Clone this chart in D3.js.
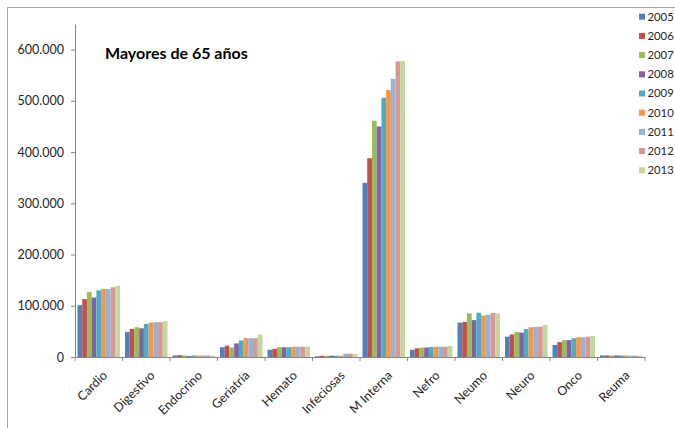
<!DOCTYPE html>
<html>
<head>
<meta charset="utf-8">
<script src="https://cdn.jsdelivr.net/npm/d3@7"></script>
<style>
  html, body { margin: 0; padding: 0; background: #fff; }
  svg { display: block; font-family: Lato, "Open Sans", sans-serif; }
</style>
</head>
<body>
<svg id="chart" width="675" height="428"></svg>
<script>
// Hospital discharges, patients over 65, by service and year
const categories = ["Cardio", "Digestivo", "Endocrino", "Geriatría", "Hemato", "Infeciosas",
                    "M Interna", "Nefro", "Neumo", "Neuro", "Onco", "Reuma"];
const years = ["2005", "2006", "2007", "2008", "2009", "2010", "2011", "2012", "2013"];

// one array per service, values per year 2005..2013
const cardio     = [101000, 113000, 127000, 116000, 130000, 133000, 132500, 136000, 139000];
const digestivo  = [48800, 54700, 58000, 56000, 64500, 67000, 68000, 68000, 70000];
const endocrino  = [3000, 3500, 3000, 2000, 3000, 3000, 3000, 3000, 2500];
const geriatria  = [19000, 22000, 18500, 26500, 32500, 37000, 36500, 36500, 43500];
const hemato     = [14000, 16000, 19000, 19000, 19000, 20000, 20000, 20000, 20000];
const infeciosas = [1500, 2500, 2500, 2500, 2500, 2500, 6500, 6500, 6000];
const mInterna   = [340000, 388000, 461000, 450000, 506000, 521000, 543000, 577000, 578000];
const nefro      = [14000, 17000, 18500, 18500, 19500, 20000, 20000, 20000, 21500];
const neumo      = [67000, 68500, 85000, 72000, 86500, 81000, 82500, 86000, 85000];
const neuro      = [39700, 44000, 48800, 47500, 54700, 58000, 59000, 59000, 62500];
const onco       = [23400, 29000, 33000, 33000, 36500, 38500, 38500, 39700, 41000];
const reuma      = [3000, 3000, 3000, 3000, 3000, 3000, 2800, 2600, 2500];

const seriesByCategory = [cardio, digestivo, endocrino, geriatria, hemato, infeciosas,
                          mInterna, nefro, neumo, neuro, onco, reuma];

const yTicks = [0, 100000, 200000, 300000, 400000, 500000, 600000];
const yMax = 650000;

const colors = ["#4F81BD", "#C0504D", "#9BBB59", "#8064A2", "#4BACC6",
                "#F79646", "#95B3D7", "#D99694", "#C3D69B"];

const svg = d3.select("#chart");

// outer chart frame
svg.append("rect")
  .attr("x", 7.5).attr("y", 7.5)
  .attr("width", 700).attr("height", 440)
  .attr("fill", "none").attr("stroke", "#a6a6a6").attr("stroke-width", 1);

const plotLeft = 75, plotRight = 645, plotTop = 24, plotBottom = 357;

const x0 = d3.scaleBand().domain(categories).range([plotLeft, plotRight]).padding(0);
const gap = 5;
const x1 = d3.scaleBand().domain(years).range([gap / 2, x0.bandwidth() - gap / 2]).padding(0);
const y = d3.scaleLinear().domain([0, yMax]).range([plotBottom, plotTop]);

const esLocale = d3.formatLocale({ decimal: ",", thousands: ".", grouping: [3], currency: ["", " €"] });
const fmt = esLocale.format(",");

// bars
const groups = svg.append("g").selectAll("g")
  .data(categories)
  .join("g")
  .attr("transform", d => `translate(${x0(d)},0)`);

groups.selectAll("rect")
  .data((c, i) => seriesByCategory[i].map((v, j) => ({ year: years[j], value: v, color: colors[j] })))
  .join("rect")
  .attr("x", d => x1(d.year))
  .attr("width", x1.bandwidth())
  .attr("y", d => y(d.value))
  .attr("height", d => y(0) - y(d.value))
  .attr("fill", d => d.color);

// y axis
const yAxis = svg.append("g")
  .attr("transform", `translate(${plotLeft},0)`)
  .call(d3.axisLeft(y).tickValues(yTicks).tickFormat(fmt).tickSize(4).tickSizeOuter(0).tickPadding(7));
yAxis.select(".domain").attr("stroke", "#868686");
yAxis.selectAll(".tick line").attr("stroke", "#868686");
yAxis.selectAll(".tick text").attr("fill", "#262626").attr("font-size", 12.5)
  .attr("font-family", "Lato, 'Open Sans', sans-serif");

// x axis: baseline, ticks between categories, rotated labels
const xAxis = svg.append("g")
  .attr("transform", `translate(0,${plotBottom})`)
  .call(d3.axisBottom(x0).tickSize(0).tickSizeOuter(0));
xAxis.select(".domain").attr("stroke", "#868686");
xAxis.selectAll(".tick text")
  .attr("font-size", 12.5)
  .attr("font-family", "Lato, 'Open Sans', sans-serif")
  .attr("fill", "#262626")
  .attr("text-anchor", "end")
  .attr("dy", "0.35em")
  .attr("transform", "translate(4,14) rotate(-45)");

const boundaries = categories.map(c => x0(c)).concat([x0(categories[categories.length - 1]) + x0.bandwidth()]);
svg.append("g").selectAll("line")
  .data(boundaries)
  .join("line")
  .attr("x1", d => d).attr("x2", d => d)
  .attr("y1", plotBottom).attr("y2", plotBottom + 4)
  .attr("stroke", "#868686");

// title
svg.append("text")
  .attr("x", 105).attr("y", 59)
  .attr("font-size", 16).attr("font-weight", "bold")
  .attr("fill", "#000")
  .text("Mayores de 65 años");

// legend
const legend = svg.append("g").selectAll("g")
  .data(years)
  .join("g")
  .attr("transform", (d, i) => `translate(639,${16.7 + i * 19.2})`);
legend.append("rect")
  .attr("x", 0).attr("y", -3).attr("width", 6).attr("height", 6)
  .attr("fill", (d, i) => colors[i]);
legend.append("text")
  .attr("x", 8.5).attr("dy", "0.35em")
  .attr("font-size", 11.3).attr("fill", "#262626")
  .text(d => d);
</script>
</body>
</html>
